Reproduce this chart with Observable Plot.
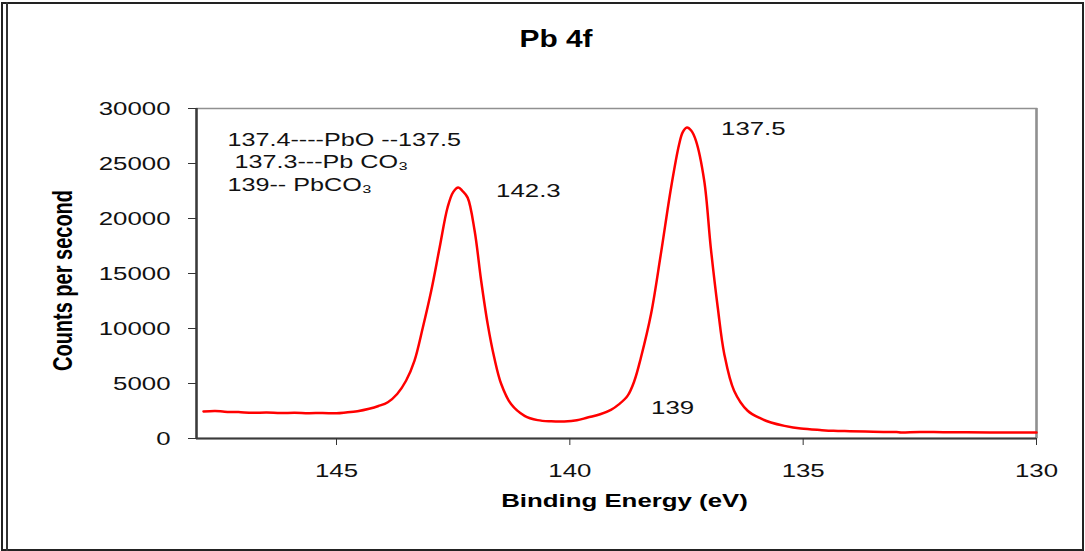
<!DOCTYPE html>
<html><head><meta charset="utf-8">
<script src="https://cdn.jsdelivr.net/npm/d3@7"></script>
<script src="https://cdn.jsdelivr.net/npm/@observablehq/plot@0.6"></script>
<style>
html,body{margin:0;padding:0;background:#fff;}
#wrap{position:relative;width:1085px;height:551px;overflow:hidden;font-family:"Liberation Sans",Arial,sans-serif;}
#wrap svg{position:absolute;left:0;top:0;}
#outer{position:absolute;left:1px;top:2px;width:1083px;height:549px;border:2px solid #222;box-sizing:border-box;pointer-events:none;}
#inner{position:absolute;left:6px;top:2px;width:1.5px;height:549px;background:#333;}
#title{position:absolute;left:456px;width:200px;top:26px;text-align:center;font-weight:bold;font-size:23px;color:#000;transform:scaleX(1.3);transform-origin:center;}
</style>
</head><body>
<div id="wrap">
  <div id="outer"></div><div id="inner"></div>
  <div id="title">Pb 4f</div>
</div>
<script>
// Binding energy (eV) and counts per second
const energy = [147.85,147.6,147.4,147.1,146.8,146.5,146.2,145.9,145.6,145.3,145.0,144.8,144.55,144.3,144.1,143.9,143.7,143.51,143.33,143.15,142.97,142.79,142.62,142.5,142.39,142.3,142.19,142.04,141.9,141.76,141.62,141.47,141.26,140.97,140.69,140.4,140.12,139.85,139.62,139.35,139.12,138.95,138.76,138.62,138.48,138.26,138.05,137.83,137.66,137.58,137.49,137.4,137.3,137.12,136.98,136.83,136.69,136.48,136.19,135.9,135.69,135.4,135.05,134.6,134.35,134.0,133.5,133.0,132.9,132.5,132.0,131.5,131.0,130.5,130.0];
const counts = [2460,2510,2440,2400,2330,2370,2310,2340,2300,2320,2290,2360,2480,2700,2950,3300,4050,5250,7060,10090,13430,17360,21000,22400,22820,22500,21900,18880,14340,10400,7360,4950,3130,2060,1670,1560,1545,1650,1910,2200,2600,3100,3900,5200,7300,11310,16760,22820,26700,27850,28270,28000,27100,23430,17360,11910,7670,4340,2520,1800,1455,1150,900,760,700,660,610,580,545,600,570,560,550,540,545];

const xDomain = [148, 130];
const yDomain = [0, 30000];
const xTicks = [145, 140, 135, 130];
const yTicks = [0, 5000, 10000, 15000, 20000, 25000, 30000];

const peakLabels = ["142.3", "137.5", "139"];
const peakLabelEnergy = [141.58, 136.76, 138.26];
const peakLabelCounts = [22470, 28150, 2750];

const noteText = "137.4----PbO --137.5\n\u00a0137.3---Pb CO\u2083\n139-- PbCO\u2083";
const xLabel = "Binding Energy (eV)";
const yLabel = "Counts per second";

const data = energy.map((e, i) => ({energy: e, counts: counts[i]}));
const peaks = peakLabels.map((t, i) => ({text: t, energy: peakLabelEnergy[i], counts: peakLabelCounts[i]}));

const font = '"Liberation Sans", Arial, sans-serif';
const chart = Plot.plot({
  width: 1085, height: 551,
  marginLeft: 196, marginRight: 49, marginTop: 108, marginBottom: 113,
  style: {fontFamily: font, fontSize: "19px", color: "#111", background: "transparent", overflow: "visible"},
  x: {domain: xDomain},
  y: {domain: yDomain},
  marks: [
    Plot.frame({stroke: "#909090", strokeWidth: 1.5}),
    Plot.ruleX([xDomain[1]], {stroke: "#909090", strokeWidth: 2.5}),
    Plot.line(data, {x: "energy", y: "counts", stroke: "#ff0000", strokeWidth: 2.5, curve: "catmull-rom"}),
    Plot.ruleX([xDomain[0]], {stroke: "#3a3a3a", strokeWidth: 2.5}),
    Plot.ruleY([yDomain[0]], {stroke: "#3a3a3a", strokeWidth: 2}),
    Plot.axisY(yTicks, {tickSize: 8, tickPadding: 18, tickFormat: d => String(d), label: null, fontSize: 19, stroke: "#333"}),
    Plot.axisX(xTicks, {tickSize: 7, tickPadding: 18, tickFormat: d => String(d), label: null, fontSize: 19, stroke: "#333"}),
    Plot.text(peaks, {x: "energy", y: "counts", text: "text", textAnchor: "start", fontSize: 19, fill: "#111"}),
    Plot.text([noteText], {frameAnchor: "top-left", dx: 31, dy: 21, lineAnchor: "top", textAnchor: "start", lineHeight: 1.22, fontSize: 18.5, fill: "#111"}),
    Plot.text([xLabel], {frameAnchor: "bottom", dx: 8, dy: 68, textAnchor: "middle", fontSize: 19, fontWeight: "bold", fill: "#000"}),
    Plot.text([yLabel], {frameAnchor: "left", dx: -133, dy: 7, rotate: -90, textAnchor: "middle", fontSize: 20, fontWeight: "bold", fill: "#000"})
  ]
});

// The reference's lettering is stretched horizontally; reproduce that on each text element.
const S = 1.36;
chart.querySelectorAll("text").forEach(t => {
  const tr = t.getAttribute("transform");
  if (tr && /translate\([^)]*\)/.test(tr)) {
    t.setAttribute("transform", tr.replace(/(translate\([^)]*\))/, `$1 scale(${S},1)`));
  } else {
    const x = +(t.getAttribute("x") || 0), y = +(t.getAttribute("y") || 0);
    t.removeAttribute("x"); t.removeAttribute("y");
    t.setAttribute("transform", `translate(${x},${y}) scale(${S},1)` + (tr ? " " + tr : ""));
  }
});
document.getElementById("wrap").prepend(chart);
</script>
</body></html>
